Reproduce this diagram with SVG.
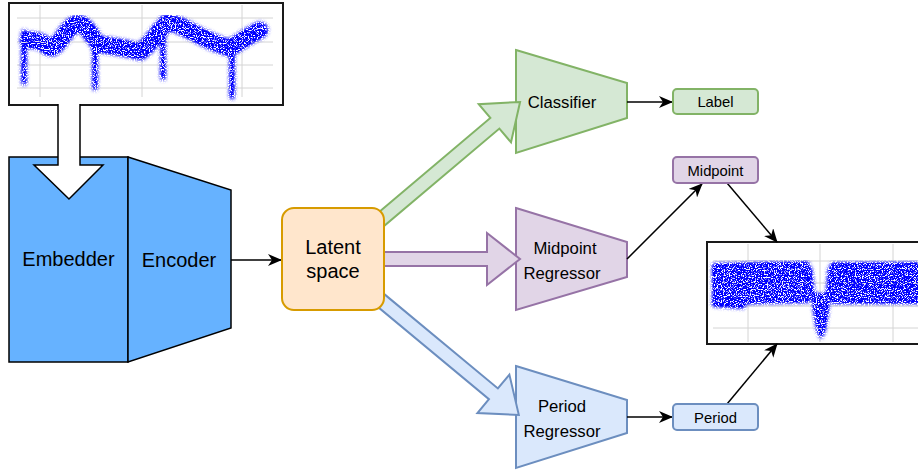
<svg xmlns="http://www.w3.org/2000/svg" width="918" height="470" viewBox="0 0 918 470">
<defs>
<style>
text{font-family:"Liberation Sans",Arial,Helvetica,sans-serif;fill:#000;text-anchor:middle}
.big{font-size:20px}
.mid{font-size:16.7px}
.sm{font-size:14.8px}
.conn{fill:none;stroke:#000;stroke-width:1.5}
.grid{stroke:#d4d4d4;stroke-width:1;fill:none}
.frame{fill:#fff;stroke:#1a1a1a;stroke-width:2}
.g{fill:#d5e8d4;stroke:#82b366;stroke-width:2}
.p{fill:#e1d5e7;stroke:#9673a6;stroke-width:2}
.b{fill:#dae8fc;stroke:#6c8ebf;stroke-width:2}
.data{fill:none;stroke:#0000ff}
</style>
<marker id="ah" viewBox="0 0 14 12" refX="13" refY="6" markerWidth="14" markerHeight="12" markerUnits="userSpaceOnUse" orient="auto">
<path d="M0,0 L14,6 L0,12 L4,6 Z" fill="#000"/>
</marker>
<filter id="speck" x="-10%" y="-10%" width="120%" height="120%" color-interpolation-filters="sRGB">
<feTurbulence type="fractalNoise" baseFrequency="0.85" numOctaves="2" seed="11" result="noise"/>
<feColorMatrix in="noise" type="matrix" values="0 0 0 0 0  0 0 0 0 0  0 0 0 0 1  8 0 0 0 -2.9" result="dots"/>
<feGaussianBlur in="SourceGraphic" stdDeviation="2" result="soft"/>
<feComponentTransfer in="soft" result="soft2"><feFuncA type="linear" slope="1.6" intercept="0"/></feComponentTransfer>
<feComposite in="dots" in2="soft2" operator="in"/>
</filter>
</defs>

<g id="plot-top">
<rect class="frame" x="9" y="3" width="274" height="102"/>
<path class="grid" d="M17,18H273M17,42H273M17,65H273M17,88H273M40,5V97M142,5V97M242,5V97"/>
<g filter="url(#speck)">
<path class="data" stroke-width="15" stroke-linecap="round" stroke-linejoin="round" d="M28,40 C38,40 44,42 48,47 C55,51 60,40 68,30 C73,24 78,21 84,26 C88,30 91,33 93,37 M98,44 C110,46 125,47 140,52 C148,47 155,36 161,29 M166,23 C175,22 185,28 200,36 C212,42 222,46 230,48 M235,45 C245,38 252,34 260,30"/>
<path class="data" stroke-width="4" stroke-linecap="round" d="M24,32 L24,83 M95,36 L95,88 M163,26 L163,78 M232,42 L232,97"/>
</g>
</g>

<g id="plot-bottom">
<rect class="frame" x="707" y="242" width="230" height="102"/>
<path class="grid" d="M713,261H925M713,283H925M713,306H925M713,328H925M748,244V342M820,244V342M893,244V342"/>
<g filter="url(#speck)">
<path class="data" stroke-width="40" d="M713,284 L809,282 M831,283 L925,283"/>
<path class="data" stroke-width="16" d="M713,298 L745,300"/>
<path class="data" stroke-width="3" d="M810,268 L813,298 M830,268 L828,298"/>
<path fill="#0000ff" d="M812,294 L829,294 L828,312 L825,330 L821,339 L817,330 L814,312 Z"/>
</g>
</g>

<g id="embedder">
<rect x="9" y="157" width="119" height="205" fill="#66b2ff" stroke="#000" stroke-width="1.5"/>
<text class="big" x="68.5" y="266">Embedder</text>
</g>
<g id="encoder">
<path d="M128,157 L231,190 L231,328 L128,362 Z" fill="#66b2ff" stroke="#000" stroke-width="1.5"/>
<text class="big" x="179" y="267">Encoder</text>
</g>

<g id="classifier">
<path class="g" d="M516,50 L627,83 L627,118 L516,153 Z"/>
<text class="mid" x="562" y="108">Classifier</text>
</g>
<g id="midpoint-regressor">
<path class="p" d="M516,208 L627,242 L627,277 L516,310 Z"/>
<text class="mid" x="565" y="254">Midpoint</text>
<text class="mid" x="562" y="279">Regressor</text>
</g>
<g id="period-regressor">
<path class="b" d="M516,366 L627,400 L627,433 L516,468 Z"/>
<text class="mid" x="562" y="412">Period</text>
<text class="mid" x="562" y="437">Regressor</text>
</g>

<g id="connectors">
<path d="M58,104 L58,165 L34,165 L69,199 L103,165 L80,165 L80,104" fill="#fff" stroke="#000" stroke-width="1.5" stroke-linejoin="miter"/>
<path class="conn" marker-end="url(#ah)" d="M231,260 L281,260"/>
<path class="g" transform="translate(378,222) rotate(-40.2)" d="M0,-7 L153,-7 L153,-25 L186,0 L153,25 L153,7 L0,7 Z"/>
<path class="p" d="M380,252 L487,252 L487,233 L520,259 L487,285 L487,266 L380,266 Z"/>
<path class="b" transform="translate(378,298) rotate(39.7)" d="M0,-7 L150,-7 L150,-25 L183,0 L150,25 L150,7 L0,7 Z"/>
<path class="conn" marker-end="url(#ah)" d="M627,102 L672,102"/>
<path class="conn" marker-end="url(#ah)" d="M627,259 L702,184"/>
<path class="conn" marker-end="url(#ah)" d="M727,183 L777,242"/>
<path class="conn" marker-end="url(#ah)" d="M627,417 L672,417"/>
<path class="conn" marker-end="url(#ah)" d="M727,404 L777,344"/>
</g>

<g id="latent-space">
<rect x="282" y="208" width="102" height="102" rx="12" fill="#ffe6cc" stroke="#d79b00" stroke-width="2"/>
<text class="big" x="333" y="254">Latent</text>
<text class="big" x="333" y="278">space</text>
</g>

<g id="label">
<rect class="g" x="673" y="89" width="85" height="25" rx="4"/>
<text class="sm" x="715.5" y="107">Label</text>
</g>
<g id="midpoint">
<rect class="p" x="673" y="157" width="85" height="26" rx="4"/>
<text class="sm" x="715.5" y="176">Midpoint</text>
</g>
<g id="period">
<rect class="b" x="673" y="404" width="85" height="26" rx="4"/>
<text class="sm" x="715.5" y="423">Period</text>
</g>
</svg>
